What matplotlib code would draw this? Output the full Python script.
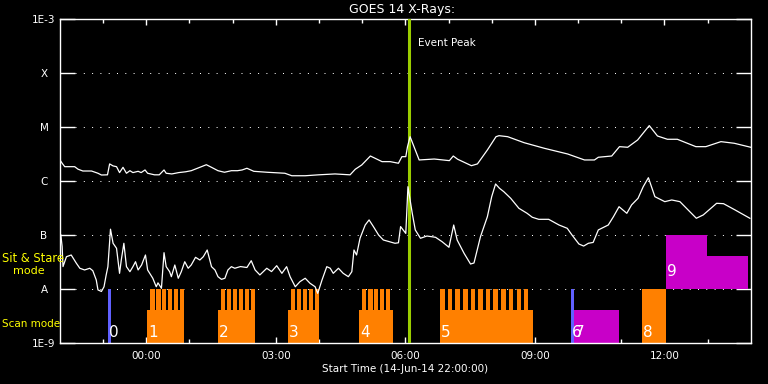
import numpy as np
import matplotlib
matplotlib.use('Agg')
import matplotlib.pyplot as plt
from matplotlib.ticker import NullLocator

# time axis: hours after 14-Jun-14 22:00:00
long_t = [0.00, 0.05, 0.11, 0.34, 0.42, 0.53, 0.73, 0.88, 0.96, 1.10,
          1.15, 1.23, 1.31, 1.38, 1.46, 1.54, 1.62, 1.69, 1.81, 1.88,
          1.97, 2.03, 2.19, 2.30, 2.41, 2.46, 2.59, 2.75, 2.91, 3.04,
          3.20, 3.39, 3.51, 3.66, 3.81, 3.97, 4.11, 4.22, 4.33, 4.49,
          4.80, 5.21, 5.37, 5.68, 5.99, 6.37, 6.72, 6.84, 6.99, 7.19,
          7.30, 7.46, 7.65, 7.84, 7.92, 8.01, 8.05, 8.11, 8.20, 8.32,
          8.67, 9.02, 9.11, 9.21, 9.53, 9.67, 9.90, 10.10, 10.17, 10.37,
          10.75, 11.22, 11.76, 12.15, 12.38, 12.47, 12.78, 12.96, 13.15, 13.38,
          13.65, 13.84, 14.07, 14.30, 14.73, 14.96, 15.31, 15.62, 16.00]
long_flux = [2.45e-6, 2.13e-6, 1.84e-6, 1.84e-6, 1.65e-6, 1.53e-6, 1.53e-6, 1.39e-6, 1.29e-6, 1.30e-6,
             2.07e-6, 1.90e-6, 1.84e-6, 1.43e-6, 1.79e-6, 1.39e-6, 1.55e-6, 1.43e-6, 1.51e-6, 1.43e-6,
             1.60e-6, 1.39e-6, 1.30e-6, 1.30e-6, 1.60e-6, 1.39e-6, 1.35e-6, 1.43e-6, 1.48e-6, 1.55e-6,
             1.74e-6, 2.00e-6, 1.79e-6, 1.55e-6, 1.45e-6, 1.55e-6, 1.55e-6, 1.60e-6, 1.72e-6, 1.51e-6,
             1.45e-6, 1.39e-6, 1.25e-6, 1.25e-6, 1.30e-6, 1.35e-6, 1.30e-6, 1.65e-6, 1.98e-6, 2.90e-6,
             2.63e-6, 2.28e-6, 2.28e-6, 2.13e-6, 2.82e-6, 2.82e-6, 4.32e-6, 6.61e-6, 4.32e-6, 2.45e-6,
             2.55e-6, 2.38e-6, 2.90e-6, 2.53e-6, 1.92e-6, 2.07e-6, 3.75e-6, 6.61e-6, 6.90e-6, 6.61e-6,
             5.12e-6, 4.03e-6, 3.16e-6, 2.45e-6, 2.45e-6, 2.75e-6, 2.90e-6, 4.32e-6, 4.21e-6, 5.74e-6,
             1.06e-5, 6.81e-6, 5.92e-6, 5.92e-6, 4.32e-6, 4.32e-6, 5.35e-6, 4.99e-6, 4.21e-6]

short_t = [0.02, 0.05, 0.07, 0.15, 0.26, 0.38, 0.46, 0.57, 0.69, 0.76,
           0.84, 0.88, 0.96, 1.02, 1.07, 1.11, 1.17, 1.23, 1.31, 1.38,
           1.42, 1.48, 1.54, 1.62, 1.69, 1.75, 1.81, 1.89, 1.98, 2.03,
           2.15, 2.23, 2.27, 2.35, 2.41, 2.46, 2.54, 2.58, 2.66, 2.74,
           2.81, 2.89, 2.97, 3.04, 3.14, 3.24, 3.32, 3.41, 3.51, 3.59,
           3.66, 3.74, 3.82, 3.89, 3.97, 4.05, 4.18, 4.33, 4.43, 4.52,
           4.63, 4.79, 4.90, 5.02, 5.14, 5.25, 5.33, 5.45, 5.56, 5.68,
           5.79, 5.91, 5.97, 6.07, 6.18, 6.26, 6.33, 6.45, 6.56, 6.68,
           6.76, 6.81, 6.87, 6.95, 7.07, 7.16, 7.26, 7.38, 7.49, 7.76,
           7.84, 7.89, 7.95, 8.01, 8.06, 8.16, 8.23, 8.35, 8.50, 8.70,
           8.85, 9.01, 9.07, 9.12, 9.20, 9.36, 9.51, 9.59, 9.74, 9.90,
           10.00, 10.09, 10.18, 10.28, 10.44, 10.63, 10.82, 10.94, 11.09, 11.32,
           11.56, 11.75, 11.86, 12.02, 12.13, 12.24, 12.35, 12.47, 12.70, 12.82,
           12.95, 13.13, 13.24, 13.39, 13.51, 13.63, 13.78, 14.01, 14.17, 14.36,
           14.55, 14.74, 14.90, 15.21, 15.37, 15.64, 15.98]
short_flux = [1.0e-7, 6.1e-8, 2.6e-8, 3.96e-8, 4.26e-8, 2.99e-8, 2.42e-8, 2.25e-8, 2.42e-8, 2.18e-8,
              1.47e-8, 9.6e-9, 9.0e-9, 1.10e-8, 1.82e-8, 2.59e-8, 1.28e-7, 7.02e-8, 5.67e-8, 1.95e-8,
              3.44e-8, 7.02e-8, 2.59e-8, 2.09e-8, 2.59e-8, 3.20e-8, 2.25e-8, 2.78e-8, 4.26e-8, 2.25e-8,
              1.58e-8, 1.10e-8, 1.30e-8, 1.03e-8, 4.70e-8, 2.59e-8, 2.09e-8, 1.69e-8, 2.78e-8, 1.58e-8,
              2.09e-8, 3.20e-8, 2.42e-8, 2.78e-8, 3.86e-8, 3.44e-8, 3.96e-8, 5.27e-8, 2.59e-8, 2.25e-8,
              1.69e-8, 1.51e-8, 1.58e-8, 2.25e-8, 2.59e-8, 2.42e-8, 2.60e-8, 2.50e-8, 3.34e-8, 2.25e-8,
              1.82e-8, 2.42e-8, 2.10e-8, 2.70e-8, 1.95e-8, 2.59e-8, 1.69e-8, 1.10e-8, 1.37e-8, 1.58e-8,
              1.28e-8, 1.10e-8, 8.3e-9, 1.47e-8, 2.59e-8, 2.42e-8, 1.95e-8, 2.42e-8, 1.95e-8, 1.69e-8,
              2.09e-8, 5.27e-8, 4.26e-8, 8.69e-8, 1.53e-7, 1.90e-7, 1.43e-7, 1.00e-7, 8.08e-8, 7.02e-8,
              7.17e-8, 1.43e-7, 1.24e-7, 1.07e-7, 7.84e-7, 2.52e-7, 1.24e-7, 8.69e-8, 9.57e-8, 9.06e-8,
              7.52e-8, 5.92e-8, 1.00e-7, 1.53e-7, 8.08e-8, 4.58e-8, 2.90e-8, 3.03e-8, 9.3e-8, 2.18e-7,
              5.12e-7, 8.80e-7, 7.33e-7, 6.34e-7, 4.78e-7, 3.12e-7, 2.52e-7, 2.13e-7, 1.95e-7, 1.95e-7,
              1.53e-7, 1.33e-7, 1.00e-7, 6.81e-8, 6.24e-8, 7.02e-8, 7.28e-8, 1.24e-7, 1.53e-7, 2.18e-7,
              3.34e-7, 2.52e-7, 3.60e-7, 4.78e-7, 7.84e-7, 1.15e-6, 5.12e-7, 4.14e-7, 4.45e-7, 4.14e-7,
              2.90e-7, 2.04e-7, 2.35e-7, 3.86e-7, 3.80e-7, 2.90e-7, 2.04e-7]

event_peak_t = 8.09

# observing segments (hours after start)
scan_start = [2.02, 3.66, 5.28, 6.93, 8.81]
scan_end = [2.87, 4.52, 6.00, 7.72, 10.96]
scan_spikes = [
    [2.09, 2.23, 2.36, 2.50, 2.64, 2.78],
    [3.73, 3.87, 4.00, 4.14, 4.28, 4.42],
    [5.35, 5.49, 5.63, 5.76, 5.90],
    [7.00, 7.14, 7.27, 7.41, 7.55],
    [8.81, 8.99, 9.16, 9.34, 9.51, 9.69, 9.87, 10.04, 10.22, 10.40, 10.58, 10.75],
]
spike_width = 0.10
cal_start = [1.11, 11.84]
cal_end = [1.18, 11.91]
scan_full_start = [13.49]
scan_full_end = [14.04]
low_mag_start = [11.91]
low_mag_end = [12.95]
ss_hi_start = [14.04]
ss_hi_end = [14.99]
ss_lo_start = [14.99]
ss_lo_end = [15.94]

seg_labels = ['0', '1', '2', '3', '4', '5', '6', '7', '8', '9']
seg_label_t = [1.13, 2.04, 3.68, 5.30, 6.95, 8.83, 11.86, 11.93, 13.51, 14.06]
seg_label_y = [1.55e-9] * 9 + [2.07e-8]

levels = [1e-9, 1e-8, 1e-7, 1e-6, 1e-5, 1e-4, 1e-3]
level_labels = ['1E-9', 'A', 'B', 'C', 'M', 'X', '1E-3']
major_hours = [2, 5, 8, 11, 14]
major_labels = ['00:00', '03:00', '06:00', '09:00', '12:00']
minor_hours = [1, 3, 4, 6, 7, 9, 10, 12, 13, 15]

ORANGE = '#ff8000'
MAGENTA = '#c800c8'
BLUE = '#6060ff'
GREEN = '#9acd00'
YELLOW = '#ffff00'

fig = plt.figure(figsize=(7.68, 3.84), dpi=100, facecolor='black')
ax = fig.add_axes([0.0781, 0.1068, 0.8994, 0.8438], facecolor='black')
ax.set_yscale('log')
ax.set_xlim(0, 16)
ax.set_ylim(1e-9, 1e-3)
for s in ax.spines.values():
    s.set_color('white')
    s.set_linewidth(1.0)

ax.set_yticks(levels, labels=level_labels)
ax.yaxis.set_minor_locator(NullLocator())
ax.tick_params(axis='y', which='major', direction='in', length=10.8, width=1,
               color='white', left=True, right=True, labelcolor='white',
               labelsize=7.5, pad=11.5)
for lbl in ax.get_yticklabels():
    lbl.set_ha('center')

ax.set_xticks(major_hours, labels=major_labels)
ax.set_xticks(minor_hours, minor=True)
ax.tick_params(axis='x', which='major', direction='in', length=4.3, width=1,
               color='white', top=True, bottom=True, labelcolor='white',
               labelsize=7.5, pad=6)
ax.tick_params(axis='x', which='minor', direction='in', length=2.7, width=1,
               color='white', top=True, bottom=True)

for lvl in levels[1:-1]:
    ax.axhline(lvl, xmin=0.0217, xmax=0.979, color='white', lw=0.72,
               ls=(0, (1, 7.3)), zorder=1)

# segments
base_top = 4.1e-9
ss_lo_top = 4.1e-8
for s0, s1 in zip(scan_start, scan_end):
    ax.bar(s0, base_top - 1e-9, bottom=1e-9, width=s1 - s0, align='edge',
           color=ORANGE, lw=0, zorder=2)
for spikes in scan_spikes:
    ax.bar(spikes, [1e-8 - 1e-9] * len(spikes), bottom=1e-9, width=spike_width,
           align='edge', color=ORANGE, lw=0, zorder=2)
for s0, s1 in zip(scan_full_start, scan_full_end):
    ax.bar(s0, 1e-8 - 1e-9, bottom=1e-9, width=s1 - s0, align='edge',
           color=ORANGE, lw=0, zorder=2)
for s0, s1 in zip(cal_start, cal_end):
    ax.bar(s0, 1e-8 - 1e-9, bottom=1e-9, width=s1 - s0, align='edge',
           color=BLUE, lw=0, zorder=2)
for s0, s1 in zip(low_mag_start, low_mag_end):
    ax.bar(s0, base_top - 1e-9, bottom=1e-9, width=s1 - s0, align='edge',
           color=MAGENTA, lw=0, zorder=2)
for s0, s1 in zip(ss_hi_start, ss_hi_end):
    ax.bar(s0, 1e-7 - 1e-8, bottom=1e-8, width=s1 - s0, align='edge',
           color=MAGENTA, lw=0, zorder=2)
for s0, s1 in zip(ss_lo_start, ss_lo_end):
    ax.bar(s0, ss_lo_top - 1e-8, bottom=1e-8, width=s1 - s0, align='edge',
           color=MAGENTA, lw=0, zorder=2)

for lab, t, y in zip(seg_labels, seg_label_t, seg_label_y):
    ax.text(t, y, lab, color='white', fontsize=11, ha='left', va='center', zorder=6)

ax.axvline(event_peak_t, color=GREEN, lw=2.2, zorder=3)
ax.text(8.30, 3.6e-4, 'Event Peak', color='white', fontsize=7.5, ha='left',
        va='center', zorder=6)

ax.plot(long_t, long_flux, color='white', lw=0.9, zorder=4)
ax.plot(short_t, short_flux, color='white', lw=0.9, zorder=4)

fig.text(401.7 / 768, 1 - 9.5 / 384, 'GOES 14 X-Rays:', color='white',
         fontsize=9, ha='center', va='center')
fig.text(405 / 768, 1 - 368.5 / 384, 'Start Time (14-Jun-14 22:00:00)',
         color='white', fontsize=7.5, ha='center', va='center')
fig.text(2 / 768, 1 - 259 / 384, 'Sit & Stare', color=YELLOW, fontsize=8.3,
         ha='left', va='center')
fig.text(12.7 / 768, 1 - 271 / 384, 'mode', color=YELLOW, fontsize=8,
         ha='left', va='center')
fig.text(2 / 768, 1 - 324 / 384, 'Scan mode', color=YELLOW, fontsize=7.5,
         ha='left', va='center')

fig.savefig('out.png', dpi=100, facecolor='black')
